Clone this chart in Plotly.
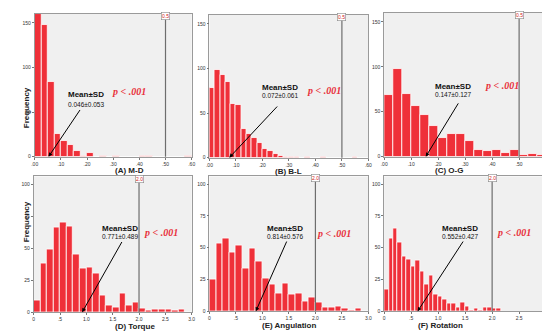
import plotly.graph_objects as go

# ---------------- data ----------------
titles = ["(A) M-D", "(B) B-L", "(C) O-G", "(D) Torque", "(E) Angulation", "(F) Rotation"]
bin_widths = [0.025, 0.02, 0.6 / 18, 0.125, 0.125, 1 / 12]

counts_a = [160, 148, 84, 26, 18, 13, 6, 1, 4, 0, 1, 0, 1, 0, 0, 0, 1, 1, 0, 0, 0, 0, 0, 1]
counts_b = [78, 98, 93, 85, 60, 59, 32, 27, 22, 16, 10, 7, 4, 2, 1, 1, 1, 0, 1, 0, 0, 1,
            0, 0, 0, 0, 0, 1, 0, 0]
counts_c = [69, 98, 70, 56, 46, 34, 21, 25, 25, 17, 8, 6, 8, 4, 7, 2, 3, 2]
counts_d = [9, 38, 49, 66, 70, 67, 45, 34, 35, 30, 13, 5, 4, 15, 5, 8, 3, 1, 2, 2, 2, 1, 2, 0]
counts_e = [25, 53, 57, 46, 52, 34, 49, 39, 26, 21, 14, 22, 13, 14, 8, 11, 7, 3, 3, 4, 2, 1, 2, 0]
counts_f = [17, 57, 65, 54, 43, 41, 35, 40, 31, 21, 28, 13, 12, 9, 6, 6, 3, 7, 4, 1, 2, 1,
            3, 3, 2, 2]
all_counts = [counts_a, counts_b, counts_c, counts_d, counts_e, counts_f]

x_max = [0.6, 0.6, 0.6, 3.0, 3.0, 3.0]
y_max = [160, 160, 160, 106, 106, 106]
x_tickvals_small = [0, 0.1, 0.2, 0.3, 0.4, 0.5, 0.6]
x_ticktext_small = [".00", ".10", ".20", ".30", ".40", ".50", ".60"]
x_tickvals_big = [0, 0.5, 1.0, 1.5, 2.0, 2.5, 3.0]
x_ticktext_big = ["0", ".5", "1.0", "1.5", "2.0", "2.5", "3.0"]
y_tickvals_top = [0, 50, 100, 150]
y_tickvals_bottom = [0, 25, 50, 75, 100]

ref_values = [0.5, 0.5, 0.5, 2.0, 2.0, 2.0]
ref_labels = ["0.5", "0.5", "0.5", "2.0", "2.0", "2.0"]
mean_sd = ["0.046±0.053", "0.072±0.061", "0.147±0.127", "0.771±0.489", "0.814±0.576", "0.552±0.427"]
arrow_head_x = [0.053, 0.075, 0.154, 0.92, 0.875, 0.62]

# annotation placement in data units
txt_x = [0.196, 0.268, 0.256, 1.63, 1.42, 1.41]
mean_y = [70, 79, 78, 65, 65, 65]
val_y = [59, 70, 69, 59, 59, 59]
tail_x = [0.177, 0.261, 0.278, 1.69, 1.47, 1.48]
tail_y = [54, 59, 61, 56, 56, 56]
p_x = [0.362, 0.433, 0.435, 2.42, 2.35, 2.41]
p_y = [73, 75, 79, 62, 61, 62]

# ---------------- layout geometry ----------------
W, H = 550, 332
px_boxes = [  # left, right, top, bottom in pixels
    (24, 183, 6, 150), (201, 362, 7, 151), (378, 542, 5, 150),
    (23, 183, 170, 307), (201, 362, 170, 306), (378, 542, 170, 306),
]

BAR_COLOR = "#ef3039"
TICK_FONT = dict(family="Arial", size=5, color="#333333")

fig = go.Figure()
layout = dict(
    width=W, height=H, margin=dict(l=0, r=0, t=0, b=0),
    paper_bgcolor="white", plot_bgcolor="#f0f0f0", showlegend=False, bargap=0,
)
annotations = []
shapes = []

for i in range(6):
    sfx = "" if i == 0 else str(i + 1)
    xa, ya = "x" + sfx, "y" + sfx
    w = bin_widths[i]
    counts = all_counts[i]
    centers = [w * (k + 0.5) for k in range(len(counts))]
    fig.add_trace(go.Bar(
        x=centers, y=counts, width=w, xaxis=xa, yaxis=ya,
        marker=dict(color=BAR_COLOR, line=dict(color="white", width=0.8)),
        hoverinfo="x+y",
    ))
    l, r, t, b = px_boxes[i]
    small = i < 3
    layout["xaxis" + sfx] = dict(
        domain=[l / W, r / W], anchor=ya, range=[0, x_max[i]],
        tickvals=x_tickvals_small if small else x_tickvals_big,
        ticktext=x_ticktext_small if small else x_ticktext_big,
        tickfont=TICK_FONT, ticks="outside", ticklen=2, tickcolor="#777",
        showgrid=False, zeroline=False, showline=True, linecolor="#9a9a9a",
        linewidth=0.8, mirror=True, fixedrange=True,
    )
    layout["yaxis" + sfx] = dict(
        domain=[1 - b / H, 1 - t / H], anchor=xa, range=[0, y_max[i]],
        tickvals=y_tickvals_top if small else y_tickvals_bottom,
        tickfont=TICK_FONT, ticks="outside", ticklen=2, tickcolor="#777",
        showgrid=False, zeroline=False, showline=True, linecolor="#9a9a9a",
        linewidth=0.8, mirror=True, fixedrange=True,
    )
    # reference line
    shapes.append(dict(type="line", xref=xa, yref=ya + " domain", x0=ref_values[i], x1=ref_values[i],
                       y0=0, y1=1, line=dict(color="#6e6e6e", width=1.2)))
    annotations.append(dict(xref=xa, yref=ya + " domain", x=ref_values[i], y=0.985, text=ref_labels[i],
                            showarrow=False, font=dict(family="Arial", size=5, color="#d02020"),
                            bgcolor="white", bordercolor="#888", borderwidth=0.6, borderpad=0.5,
                            yanchor="middle"))
    # Mean ± SD
    annotations.append(dict(xref=xa, yref=ya, x=txt_x[i], y=mean_y[i], text="<b>Mean±SD</b>",
                            showarrow=False, font=dict(family="Arial", size=8, color="#111")))
    annotations.append(dict(xref=xa, yref=ya, x=txt_x[i], y=val_y[i], text=mean_sd[i],
                            showarrow=False, font=dict(family="Arial", size=6.5, color="#111")))
    annotations.append(dict(xref=xa, yref=ya, x=arrow_head_x[i], y=0, ax=tail_x[i], ay=tail_y[i],
                            axref=xa, ayref=ya, text="", showarrow=True, arrowhead=2,
                            arrowsize=0.8, arrowwidth=1, arrowcolor="black"))
    # p value
    annotations.append(dict(xref=xa, yref=ya, x=p_x[i], y=p_y[i], text="<b><i>p &lt; .001</i></b>",
                            showarrow=False,
                            font=dict(family="Liberation Serif", size=10, color="#e8323c")))
    # axis title
    title_y = (b + 14) / H
    annotations.append(dict(xref="paper", yref="paper", x=(l + r) / 2 / W, y=1 - title_y,
                            text="<b>" + titles[i] + "</b>", showarrow=False,
                            font=dict(family="Arial", size=8, color="#222"), yanchor="middle"))

# Frequency labels
for (l, r, t, b) in (px_boxes[0], px_boxes[3]):
    annotations.append(dict(xref="paper", yref="paper", x=9 / W, y=1 - (t + b) / 2 / H,
                            text="<b>Frequency</b>", textangle=-90, showarrow=False,
                            font=dict(family="Arial", size=8, color="#222")))

layout["annotations"] = annotations
layout["shapes"] = shapes
fig.update_layout(**layout)
fig.write_html("out.html")
